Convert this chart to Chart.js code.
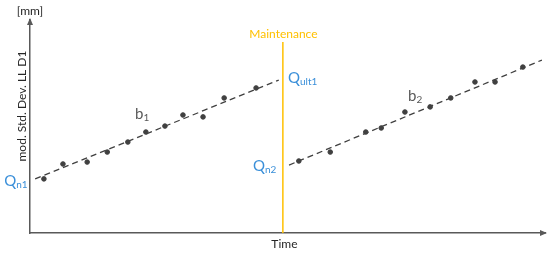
<!DOCTYPE html>
<html>
<head>
<meta charset="utf-8">
<script src="https://cdn.jsdelivr.net/npm/chart.js@4/dist/chart.umd.min.js"></script>
<style>
  html, body { margin: 0; padding: 0; background: #fff; }
  #wrap { width: 550px; height: 254px; }
</style>
</head>
<body>
<div id="wrap"><canvas id="chart"></canvas></div>
<script>
// measured points, before maintenance
const firstTime = [2.7, 6.4, 11.1, 15.0, 19.0, 22.5, 26.2, 29.7, 33.6, 37.7, 43.9];
const firstValue = [25.4, 32.4, 33.3, 38.0, 42.7, 47.4, 50.2, 55.4, 54.5, 63.4, 68.1];
// measured points, after maintenance
const secondTime = [52.2, 58.3, 65.2, 68.2, 72.8, 77.7, 81.7, 86.4, 90.3, 95.7];
const secondValue = [33.8, 38.0, 47.4, 49.3, 56.8, 59.2, 63.4, 70.9, 70.9, 77.9];
// fitted trends
const trend1Time = [1.0, 48.3];
const trend1Value = [25.4, 71.8];
const trend2Time = [50.3, 99.4];
const trend2Value = [31.9, 81.2];
// maintenance event
const maintenanceTime = [49.1, 49.1];
const maintenanceValue = [0, 89.7];

// annotation labels: main text, subscript, position in data units
const labelNames = ['Q', 'Q', 'Q', 'b', 'b'];
const labelSubs = ['n1', 'ult1', 'n2', '1', '2'];
const labelTime = [-5.0, 50.1, 43.3, 20.4, 73.4];
const labelValue = [24.4, 72.8, 31.5, 55.9, 64.3];
const labelColors = ['#3a8fd9', '#3a8fd9', '#3a8fd9', '#595959', '#595959'];

const DARK = '#404040';
const GOLD = '#ffc000';
const FONT = 'Lato, "Open Sans", sans-serif';

function toPoints(xs, ys) {
  return xs.map((x, i) => ({ x: x, y: ys[i] }));
}

const textPlugin = {
  id: 'textPlugin',
  afterDraw(chart) {
    const { ctx, chartArea, scales } = chart;
    const xs = scales.x;
    const ys = scales.y;
    ctx.save();

    // arrow heads
    ctx.fillStyle = '#595959';
    ctx.beginPath();
    ctx.moveTo(chartArea.left, chartArea.top - 2);
    ctx.lineTo(chartArea.left - 3, chartArea.top + 5);
    ctx.lineTo(chartArea.left + 3, chartArea.top + 5);
    ctx.closePath();
    ctx.fill();
    ctx.beginPath();
    ctx.moveTo(chartArea.right + 2, chartArea.bottom);
    ctx.lineTo(chartArea.right - 5, chartArea.bottom - 3);
    ctx.lineTo(chartArea.right - 5, chartArea.bottom + 3);
    ctx.closePath();
    ctx.fill();

    // axis texts
    ctx.fillStyle = '#262626';
    ctx.textBaseline = 'middle';
    ctx.textAlign = 'center';
    ctx.font = '12px ' + FONT;
    ctx.fillText('[mm]', chartArea.left, chartArea.top - 9);
    ctx.fillText('Time', xs.getPixelForValue(49.4), chartArea.bottom + 11);
    ctx.save();
    ctx.translate(chartArea.left - 8, ys.getPixelForValue(59.6));
    ctx.rotate(-Math.PI / 2);
    ctx.fillText('mod. Std. Dev. LL D1', 0, 0);
    ctx.restore();

    ctx.fillStyle = GOLD;
    ctx.fillText('Maintenance', xs.getPixelForValue(49.2), ys.getPixelForValue(93.2));

    // labels with subscripts
    ctx.textAlign = 'left';
    labelNames.forEach((name, i) => {
      const px = xs.getPixelForValue(labelTime[i]);
      const py = ys.getPixelForValue(labelValue[i]);
      ctx.fillStyle = labelColors[i];
      ctx.font = '15px ' + FONT;
      ctx.fillText(name, px, py);
      const w = ctx.measureText(name).width;
      ctx.font = '10px ' + FONT;
      ctx.fillText(labelSubs[i], px + w, py + 4);
    });
    ctx.restore();
  },
};

new Chart(document.getElementById('chart'), {
  type: 'scatter',
  data: {
    datasets: [
      {
        data: toPoints(firstTime, firstValue),
        backgroundColor: DARK,
        borderColor: DARK,
        pointRadius: 2.3,
      },
      {
        data: toPoints(secondTime, secondValue),
        backgroundColor: DARK,
        borderColor: DARK,
        pointRadius: 2.3,
      },
      {
        type: 'line',
        data: toPoints(trend1Time, trend1Value),
        borderColor: DARK,
        borderWidth: 1.3,
        borderDash: [6, 4],
        pointRadius: 0,
      },
      {
        type: 'line',
        data: toPoints(trend2Time, trend2Value),
        borderColor: DARK,
        borderWidth: 1.3,
        borderDash: [6, 4],
        pointRadius: 0,
      },
      {
        type: 'line',
        data: toPoints(maintenanceTime, maintenanceValue),
        borderColor: GOLD,
        borderWidth: 1.5,
        pointRadius: 0,
      },
    ],
  },
  options: {
    responsive: true,
    maintainAspectRatio: false,
    animation: false,
    layout: { padding: { left: 30, right: 5, top: 20, bottom: 21 } },
    plugins: {
      legend: { display: false },
      tooltip: { enabled: false },
    },
    scales: {
      x: {
        type: 'linear',
        min: 0,
        max: 100,
        ticks: { display: false },
        grid: { display: false },
        border: { display: true, color: '#595959', width: 1.5 },
        afterFit: (scale) => { scale.height = 0; },
      },
      y: {
        type: 'linear',
        min: 0,
        max: 100,
        ticks: { display: false },
        grid: { display: false },
        border: { display: true, color: '#595959', width: 1.5 },
        afterFit: (scale) => { scale.width = 0; },
      },
    },
  },
  plugins: [textPlugin],
});
</script>
</body>
</html>
